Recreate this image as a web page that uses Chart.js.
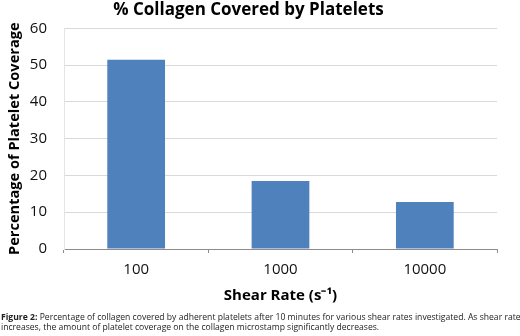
<!DOCTYPE html>
<html>
<head>
<meta charset="utf-8">
<script src="https://cdn.jsdelivr.net/npm/chart.js@4/dist/chart.umd.min.js"></script>
<style>
  html, body { margin: 0; padding: 0; background: #fff; }
  #wrap { position: relative; width: 520px; height: 336px; overflow: hidden; }
  #caption {
    position: absolute; left: 1px; top: 312px; width: 600px;
    font-family: "Open Sans", sans-serif; font-size: 8.6px; line-height: 10px;
    color: #222; white-space: nowrap;
  }
</style>
</head>
<body>
<div id="wrap">
  <canvas id="myChart" width="520" height="336"></canvas>
  <div id="caption"><b>Figure 2:</b> Percentage of collagen covered by adherent platelets after 10 minutes for various shear rates investigated. As shear rate<br>increases, the amount of platelet coverage on the collagen microstamp significantly decreases.</div>
</div>
<script>
var shearRates = ["100", "1000", "10000"];
var coverage = [51.5, 18.5, 12.8];
var yTicks = [0, 10, 20, 30, 40, 50, 60];

var config = {
    type: 'bar',
    data: {
        labels: shearRates,
        datasets: [{
            data: coverage,
            backgroundColor: '#4f81bd',
            barPercentage: 0.4,
            categoryPercentage: 1.0
        }]
    },
    options: {
        responsive: false,
        animation: false,
        layout: { padding: { left: 0, right: 23, top: 0, bottom: 31 } },
        plugins: {
            legend: { display: false },
            tooltip: { enabled: false },
            title: {
                display: true,
                text: '% Collagen Covered by Platelets',
                color: '#000',
                font: { family: 'Open Sans', size: 17, weight: 'bold' },
                padding: { top: 0, bottom: 8 }
            }
        },
        scales: {
            x: {
                grid: {
                    offset: true,
                    drawOnChartArea: false,
                    drawTicks: true,
                    tickLength: 4,
                    tickColor: '#8c8c8c'
                },
                border: { display: true, color: '#8c8c8c' },
                ticks: {
                    color: '#111',
                    padding: 8,
                    font: { family: 'Open Sans', size: 15 }
                },
                title: {
                    display: true,
                    text: 'Shear Rate (s\u207B\u00B9)',
                    color: '#000',
                    font: { family: 'Open Sans', size: 15, weight: 'bold' },
                    padding: { top: 0, bottom: 0 }
                }
            },
            y: {
                min: 0,
                max: 60,
                afterBuildTicks: function(scale) {
                    scale.ticks = yTicks.map(function(v) { return { value: v }; });
                },
                afterFit: function(scale) { scale.width = 64; },
                grid: { color: '#d9d9d9', drawTicks: false },
                border: { display: true, color: '#e4e4e4' },
                ticks: {
                    color: '#111',
                    padding: 17,
                    font: { family: 'Open Sans', size: 15 }
                },
                title: {
                    display: true,
                    text: 'Percentage of Platelet Coverage',
                    color: '#000',
                    font: { family: 'Open Sans', size: 14.6, weight: 'bold' },
                    padding: { top: 6, bottom: 0 }
                }
            }
        }
    }
};

window.onload = function() {
    var ctx = document.getElementById('myChart');
    window.myBar = new Chart(ctx, config);
};
</script>
</body>
</html>
